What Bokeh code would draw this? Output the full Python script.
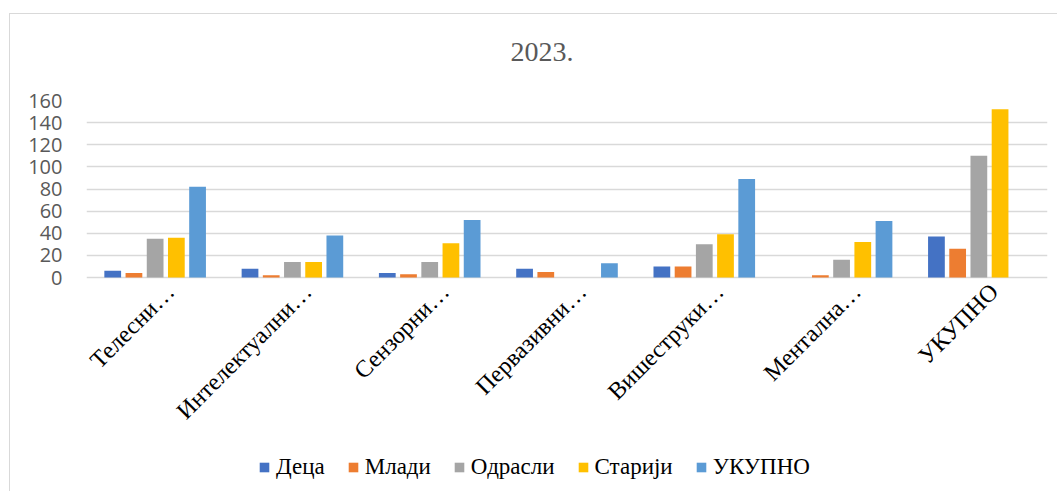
from bokeh.plotting import figure
from bokeh.models import (ColumnDataSource, Range1d, Legend, LegendItem, InlineStyleSheet,
                          Title, FixedTicker)
from bokeh.core.properties import value
from bokeh.transform import dodge
from bokeh.embed import file_html
from bokeh.resources import INLINE
import math

categories = ["Телесни…", "Интелектуални…", "Сензорни…", "Первазивни…", "Вишеструки…", "Ментална…", "УКУПНО"]
series_names = ["Деца", "Млади", "Одрасли", "Старији", "УКУПНО"]
deca = [6, 8, 4, 8, 10, 0, 37]
mladi = [4, 2, 3, 5, 10, 2, 26]
odrasli = [35, 14, 14, 0, 30, 16, 110]
stariji = [36, 14, 31, 0, 39, 32, 152]
ukupno = [82, 38, 52, 13, 89, 51, 0]
y_ticks = [0, 20, 40, 60, 80, 100, 120, 140, 160]
title_text = "2023."

colors = ["#4472C4", "#ED7D31", "#A5A5A5", "#FFC000", "#5B9BD5"]

n = len(categories)
src = ColumnDataSource(dict(cat=categories, idx=list(range(n)),
                            s0=deca, s1=mladi, s2=odrasli, s3=stariji, s4=ukupno))

# The frame extends below the value axis so that category labels and legend sit inside it;
# the 0..160 value scale occupies the upper part (0 at the horizontal baseline).
p = figure(
    x_range=Range1d(-0.5, n - 0.5),
    y_range=Range1d(-188, 160),
    frame_width=961, frame_height=385,
    output_backend="svg", toolbar_location=None,
    min_border_left=86, min_border_right=10, min_border_top=100, min_border_bottom=6,
    title=None, x_axis_location=None,
)

step = 0.1545
bw = 0.122
renderers = []
for i, name in enumerate(series_names):
    r = p.vbar(x=dodge("idx", (i - 2) * step), top="s%d" % i, width=bw,
               source=src, fill_color=colors[i], line_color=None)
    renderers.append(r)

# Category labels, rotated 45 degrees, top-right corner at each category position
p.text(x=dodge("idx", 0.044), y=0, text="cat", source=src, angle=math.pi / 4,
       text_align="right", text_baseline="top", y_offset=1,
       text_font=value("Liberation Serif"), text_font_size=value("24px"), text_color="#000000")

# Title: a blank spacer next to the frame, then the real title
p.add_layout(Title(text=" ", text_font_size="21px"), "above")
p.add_layout(Title(text=title_text, align="left", offset=424,
                   text_font="Liberation Serif", text_font_size="28px",
                   text_font_style="normal", text_color="#595959"), "above")

# Y axis
p.yaxis.ticker = FixedTicker(ticks=y_ticks)
p.yaxis.axis_line_color = None
p.yaxis.major_tick_line_color = None
p.yaxis.minor_tick_line_color = None
p.yaxis.major_label_text_font = "Open Sans"
p.yaxis.major_label_text_font_size = "20px"
p.yaxis.major_label_text_color = "#595959"
p.yaxis.major_label_standoff = 18

p.xgrid.grid_line_color = None
p.ygrid.ticker = FixedTicker(ticks=y_ticks)
p.ygrid.grid_line_color = "#d9d9d9"
p.ygrid.grid_line_width = 1.5
p.outline_line_color = None

legend = Legend(
    items=[LegendItem(label=nm, renderers=[r]) for nm, r in zip(series_names, renderers)],
    orientation="horizontal", location=(172, 5),
    label_text_font="Liberation Serif", label_text_font_size="23px", label_text_color="#000000",
    glyph_width=12, glyph_height=12, label_standoff=6, spacing=22,
    border_line_color=None, background_fill_alpha=0, margin=0, padding=4,
)
p.add_layout(legend, "center")

# chart-area border (left and top edges visible in the window)
p.stylesheets = [InlineStyleSheet(css=":host { position: relative; } :host::after { content: ''; position: absolute; left: 9px; top: 13px; right: 0; bottom: 0; border-left: 1.5px solid #d9d9d9; border-top: 1.5px solid #d9d9d9; pointer-events: none; }")]

open("out.html", "w").write(file_html(p, INLINE))
